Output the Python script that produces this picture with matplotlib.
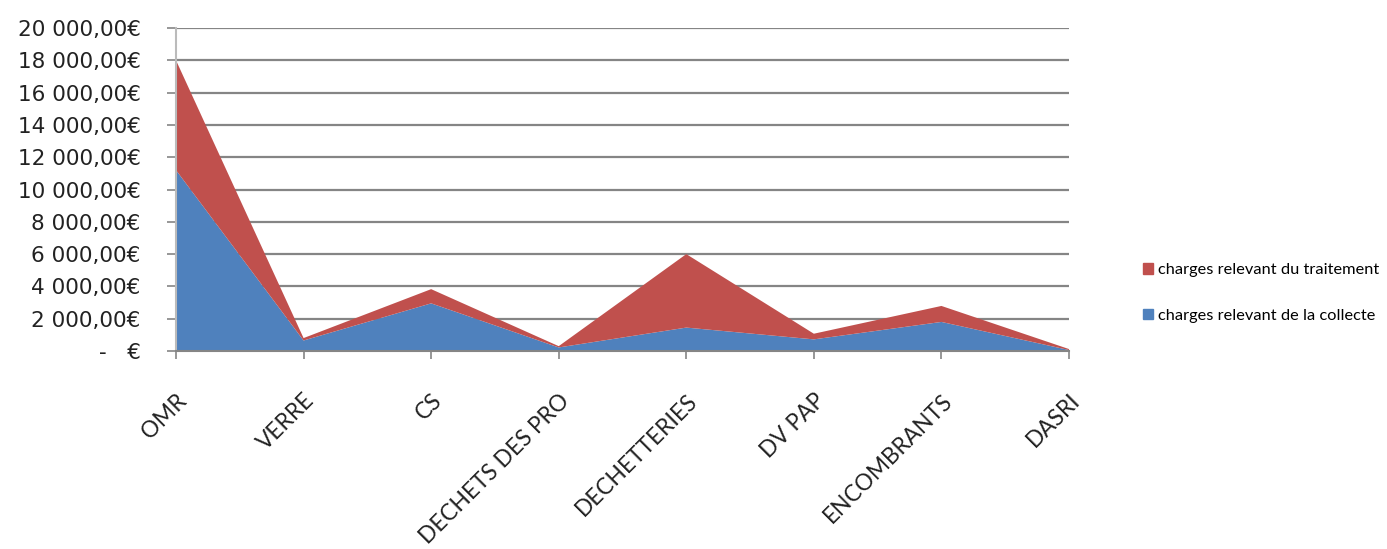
import matplotlib.pyplot as plt
import numpy as np
from matplotlib.patches import Patch

categories = ["OMR", "VERRE", "CS", "DECHETS DES PRO", "DECHETTERIES",
              "DV PAP", "ENCOMBRANTS", "DASRI"]
collecte = [11200, 650, 2950, 220, 1450, 720, 1800, 60]
traitement = [6800, 150, 880, 80, 4550, 350, 990, 60]
y_ticks = list(range(0, 20001, 2000))
series_names = ["charges relevant de la collecte", "charges relevant du traitement"]

blue = "#4F81BD"
red = "#C0504D"

plt.rcParams["font.family"] = ["Lato", "DejaVu Sans"]

fig = plt.figure(figsize=(13.87, 5.49), dpi=100)
ax = fig.add_axes([176 / 1387, 1 - 351 / 549, (1069 - 176) / 1387, (351 - 28) / 549])

x = np.arange(len(categories))
ax.stackplot(x, collecte, traitement, colors=[blue, red], zorder=2)

ax.set_xlim(x[0], x[-1])
ax.set_ylim(0, 20000)

ax.set_yticks(y_ticks)
labels = []
for v in y_ticks:
    if v == 0:
        labels.append("-   €")
    else:
        labels.append(f"{v:,}".replace(",", " ") + ",00€")
ax.set_yticklabels(labels, fontsize=15.5, color="#222222", family="DejaVu Sans")
ax.yaxis.grid(True, color="#858585", linewidth=1.6, zorder=1)
ax.set_axisbelow(True)
ax.tick_params(axis="y", length=6.5, color="#858585", width=1.2, pad=19)

ax.set_xticks(x)
ax.set_xticklabels(categories, rotation=45, ha="right", va="top",
                   rotation_mode="anchor", fontsize=16.3, color="#222222")
ax.tick_params(axis="x", length=6, color="#858585", width=1.2, pad=22)

for side in ["top", "right"]:
    ax.spines[side].set_visible(False)
ax.spines["left"].set_color("#bbbbbb")
ax.spines["left"].set_linewidth(1.5)
ax.spines["bottom"].set_color("#858585")
ax.spines["bottom"].set_linewidth(1.5)

handles = [Patch(color=red, label=series_names[1]),
           Patch(color=blue, label=series_names[0])]
fig.legend(handles=handles, loc="center left",
           bbox_to_anchor=(1128 / 1387, 1 - 293 / 549), frameon=False,
           fontsize=11.8, handlelength=0.6, handleheight=0.6,
           handletextpad=0.3, labelspacing=1.9)

fig.savefig("out.png", dpi=100)
